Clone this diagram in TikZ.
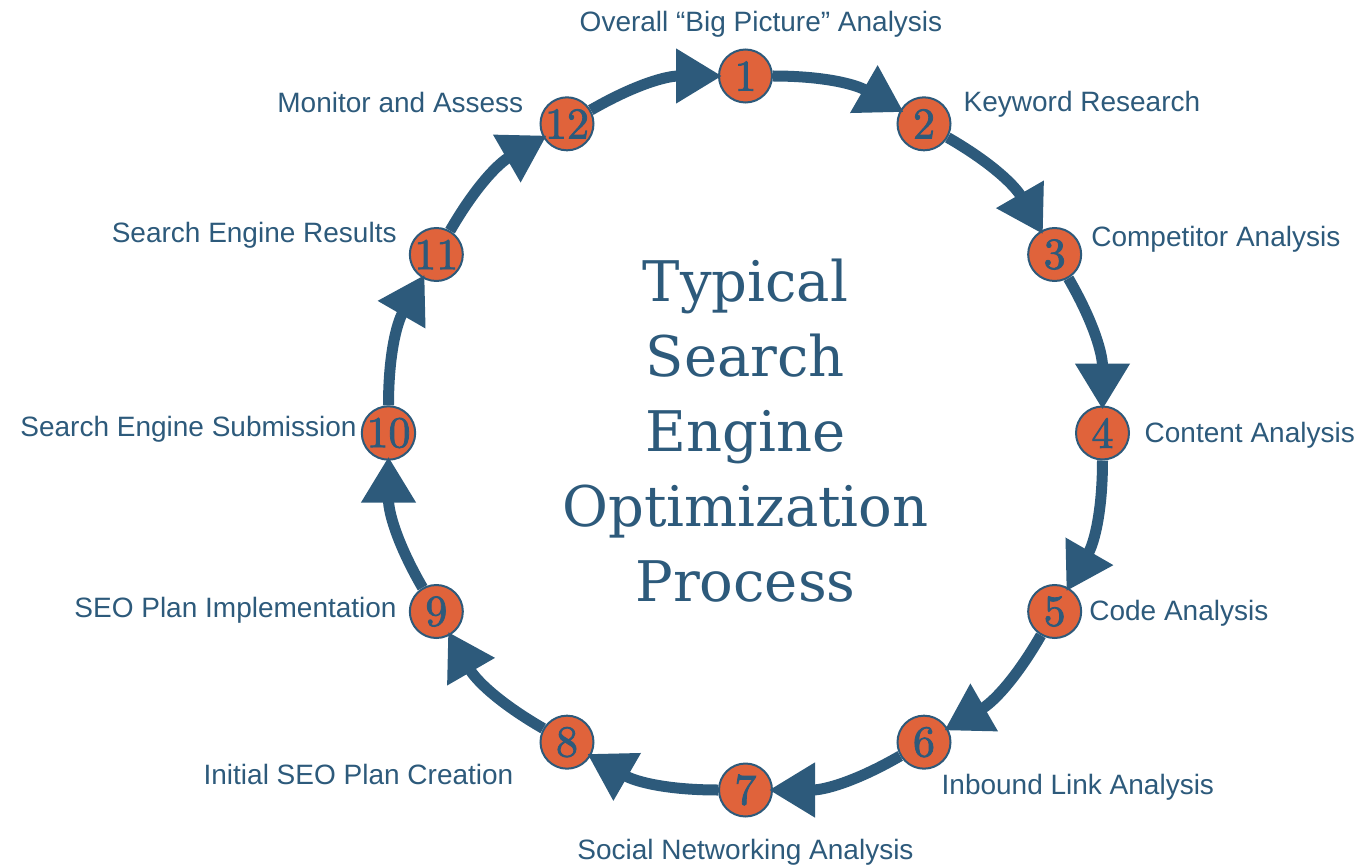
\documentclass[tikz,border=0pt]{standalone}
\usepackage{fontspec}
\newfontfamily\lblfont{Liberation Sans}
\newfontfamily\ttlfont{DejaVu Serif}
\newfontfamily\numfont{lmroman10-regular}[Extension=.otf, FakeBold=1.8]
\usetikzlibrary{arrows.meta,positioning}
\definecolor{seoblue}{HTML}{2D5A7B}
\definecolor{seoorange}{HTML}{E0633B}

\begin{document}
\begin{tikzpicture}[x=1pt,y=1pt]
\tikzstyle{num} = [circle, draw=seoblue, line width=2pt, fill=seoorange,
minimum size=53pt, inner sep=0pt, text=seoblue, font=\numfont\fontsize{44}{44}\selectfont]
\tikzstyle{lbl} = [text=seoblue, font=\lblfont\fontsize{28}{34}\selectfont,
inner sep=0pt, text height=20pt, text depth=0pt]
\tikzstyle{flow} = [draw=seoblue, line width=11pt,
-{Triangle[length=46pt,width=52pt]}, shorten >=-4pt];
\useasboundingbox (-745.5,-432) rectangle (616.5,433);

% title in the middle
\node[text=seoblue, align=center, font=\ttlfont\fontsize{56}{75}\selectfont] (title) at (0,2)
{Typical\\Search\\Engine\\Optimization\\Process};

% steps round the circle
\node[num] (n1) at (90:357) {1};
\node[num] (n2) at (60:357) {2};
\node[num] (n3) at (30:357) {3};
\node[num] (n4) at (0:357) {4};
\node[num] (n5) at (-30:357) {5};
\node[num] (n6) at (-60:357) {6};
\node[num] (n7) at (-90:357) {7};
\node[num] (n8) at (-120:357) {8};
\node[num] (n9) at (-150:357) {9};
\node[num] (n10) at (180:357) {10};
\node[num] (n11) at (150:357) {11};
\node[num] (n12) at (120:357) {12};

% labels
\node[lbl, above=17pt of n1, xshift=15.5pt] (l1) {Overall “Big Picture” Analysis};
\node[lbl, right=12pt of n2, yshift=22pt] (l2) {Keyword Research};
\node[lbl, right=9pt of n3, yshift=17.5pt] (l3) {Competitor Analysis};
\node[lbl, right=14.5pt of n4, yshift=1pt] (l4) {Content Analysis};
\node[lbl, right=7pt of n5, yshift=1pt] (l5) {Code Analysis};
\node[lbl, below right=13pt and -2pt of n6] (l6) {Inbound Link Analysis};
\node[lbl, below=22pt of n7] (l7) {Social Networking Analysis};
\node[lbl, below left=3pt and 34pt of n8] (l8) {Initial SEO Plan Creation};
\node[lbl, left=12pt of n9, yshift=4.5pt] (l9) {SEO Plan Implementation};
\node[lbl, left=4pt of n10, yshift=6.5pt] (l10) {Search Engine Submission};
\node[lbl, left=12pt of n11, yshift=21.5pt] (l11) {Search Engine Results};
\node[lbl, left=16pt of n12, yshift=21pt] (l12) {Monitor and Assess};

\draw[flow] (n1) to[bend left=15] (n2);
\draw[flow] (n2) to[bend left=15] (n3);
\draw[flow] (n3) to[bend left=15] (n4);
\draw[flow] (n4) to[bend left=15] (n5);
\draw[flow] (n5) to[bend left=15] (n6);
\draw[flow] (n6) to[bend left=15] (n7);
\draw[flow] (n7) to[bend left=15] (n8);
\draw[flow] (n8) to[bend left=15] (n9);
\draw[flow] (n9) to[bend left=15] (n10);
\draw[flow] (n10) to[bend left=15] (n11);
\draw[flow] (n11) to[bend left=15] (n12);
\draw[flow] (n12) to[bend left=15] (n1);
\end{tikzpicture}
\end{document}
